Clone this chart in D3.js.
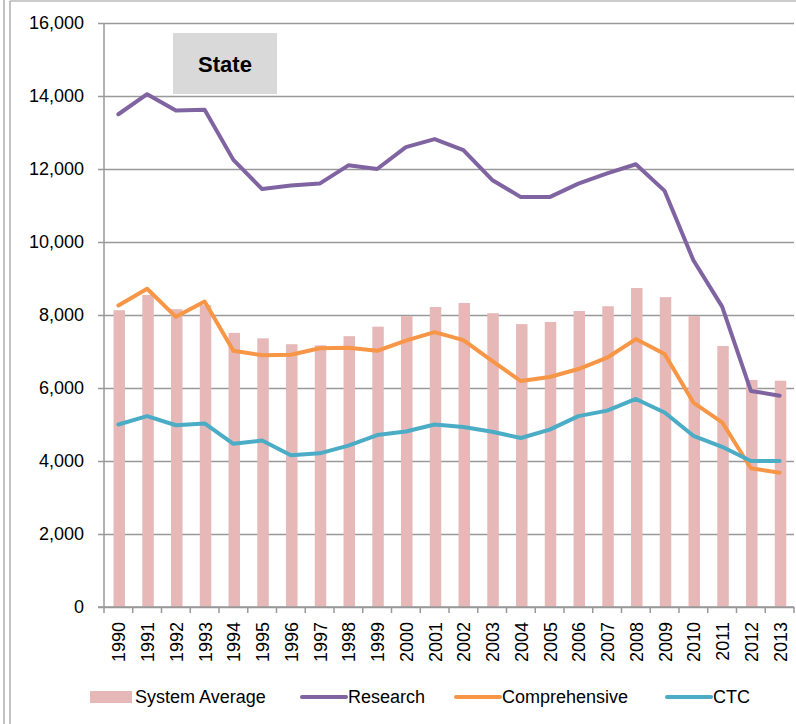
<!DOCTYPE html>
<html>
<head>
<meta charset="utf-8">
<script src="https://cdn.jsdelivr.net/npm/d3@7"></script>
<style>
  html, body { margin: 0; padding: 0; background: #fff; }
  svg { display: block; }
  text { font-family: "Liberation Sans", Arial, sans-serif; fill: #000; }
</style>
</head>
<body>
<svg id="chart" width="796" height="724"></svg>
<script>
const years = ["1990","1991","1992","1993","1994","1995","1996","1997","1998","1999","2000","2001","2002","2003","2004","2005","2006","2007","2008","2009","2010","2011","2012","2013"];
const systemAverage = [8130,8550,8160,8270,7510,7360,7200,7170,7420,7680,7970,8220,8330,8050,7750,7810,8110,8240,8740,8490,7970,7150,6220,6200];
const research      = [13500,14050,13600,13620,12250,11450,11550,11600,12100,12000,12600,12820,12520,11700,11230,11230,11600,11880,12130,11400,9500,8230,5920,5790];
const comprehensive = [8260,8720,7950,8370,7020,6900,6910,7090,7100,7020,7300,7530,7310,6740,6190,6300,6520,6830,7340,6930,5600,5060,3800,3680];
const ctc           = [5000,5230,4980,5030,4470,4560,4160,4210,4420,4710,4810,5000,4930,4800,4630,4860,5230,5380,5700,5330,4690,4390,4000,4000];
const yTicks = [0,2000,4000,6000,8000,10000,12000,14000,16000];
const chartTitle = "State";
const legendLabels = ["System Average","Research","Comprehensive","CTC"];

const colors = { bar: "#e6b9b8", research: "#8064a2", comprehensive: "#f79646", ctc: "#4bacc6" };
const grid = "#999999";

const svg = d3.select("#chart");

// outer frame lines
svg.append("line").attr("x1",4).attr("x2",4).attr("y1",0).attr("y2",724).attr("stroke","#9a9a9a").attr("stroke-width",1.2);
svg.append("line").attr("x1",10).attr("x2",10).attr("y1",1).attr("y2",724).attr("stroke","#9a9a9a").attr("stroke-width",1.2);
svg.append("line").attr("x1",10).attr("x2",796).attr("y1",1).attr("y2",1).attr("stroke","#9a9a9a").attr("stroke-width",1.2);

const pLeft = 104, pRight = 794, pTop = 23, pBottom = 607;
const x = d3.scaleBand().domain(years).range([pLeft, pRight]).paddingInner(0).paddingOuter(0);
const y = d3.scaleLinear().domain([0, 16000]).range([pBottom, pTop]);

// gridlines + y ticks
const yAxis = d3.axisLeft(y).tickValues(yTicks).tickSize(-(pRight-pLeft)).tickFormat(d3.format(","));
const gy = svg.append("g").attr("transform", `translate(${pLeft},0)`).call(yAxis);
gy.select(".domain").remove();
gy.selectAll(".tick line").attr("stroke", grid).attr("stroke-width", 1.5).attr("x1", -6);
gy.selectAll(".tick text").attr("x", -20).attr("font-size", 18).attr("fill","#000")
  .style("font-family", '"Liberation Sans", Arial, sans-serif');

// bars
const bw = x.bandwidth() * 0.4;
svg.append("g").selectAll("rect").data(systemAverage).join("rect")
  .attr("x", (d,i) => x(years[i]) + x.bandwidth()/2 - bw/2 + 0.9)
  .attr("width", bw)
  .attr("y", d => y(d))
  .attr("height", d => y(0) - y(d))
  .attr("fill", colors.bar);

// y axis line
svg.append("line").attr("x1",pLeft).attr("x2",pLeft).attr("y1",pTop).attr("y2",pBottom).attr("stroke",grid).attr("stroke-width",1.5);
// x axis line
svg.append("line").attr("x1",pLeft-6).attr("x2",pRight).attr("y1",pBottom).attr("y2",pBottom).attr("stroke",grid).attr("stroke-width",1.5);
// x tick marks at band boundaries
const boundaries = years.map(d => x(d)).concat([pRight]);
svg.append("g").selectAll("line").data(boundaries).join("line")
  .attr("x1", d => d).attr("x2", d => d).attr("y1", pBottom).attr("y2", pBottom + 6)
  .attr("stroke", grid).attr("stroke-width", 1.5);
// x labels
svg.append("g").selectAll("text").data(years).join("text")
  .attr("transform", d => `translate(${x(d) + x.bandwidth()/2 + 7},${pBottom + 15}) rotate(-90)`)
  .attr("text-anchor", "end")
  .attr("font-size", 18)
  .text(d => d);

// lines
const line = d3.line().x((d,i) => x(years[i]) + x.bandwidth()/2).y(d => y(d));
[[research, colors.research],[comprehensive, colors.comprehensive],[ctc, colors.ctc]].forEach(([data, c]) => {
  svg.append("path").datum(data).attr("d", line).attr("fill","none").attr("stroke", c)
    .attr("stroke-width", 4).attr("stroke-linejoin","round").attr("stroke-linecap","round");
});

// title box
svg.append("rect").attr("x",173).attr("y",33).attr("width",104).attr("height",61).attr("fill","#d9d9d9");
svg.append("text").attr("x",225).attr("y",72).attr("text-anchor","middle").attr("font-size",22)
  .attr("font-weight","bold").text(chartTitle);

// legend
const ly = 697;
const lg = svg.append("g");
lg.append("rect").attr("x",90).attr("y",ly-6).attr("width",42).attr("height",12).attr("fill",colors.bar);
lg.append("text").attr("x",135).attr("y",ly+6).attr("font-size",18).text(legendLabels[0]);
const lineItems = [[302, colors.research, legendLabels[1]],[456, colors.comprehensive, legendLabels[2]],[667, colors.ctc, legendLabels[3]]];
lineItems.forEach(([lx, c, t]) => {
  lg.append("line").attr("x1",lx).attr("x2",lx+44).attr("y1",ly).attr("y2",ly).attr("stroke",c).attr("stroke-width",4).attr("stroke-linecap","round");
  lg.append("text").attr("x",lx+46).attr("y",ly+6).attr("font-size",18).text(t);
});
</script>
</body>
</html>
